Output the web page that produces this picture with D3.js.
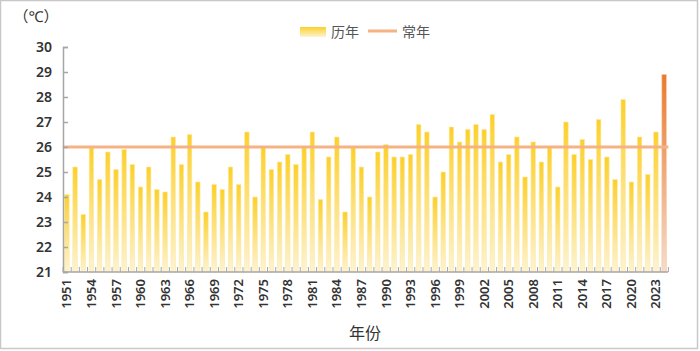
<!DOCTYPE html>
<html><head><meta charset="utf-8">
<script src="https://cdn.jsdelivr.net/npm/d3@7"></script>
<style>
body{margin:0;background:#fff;}
svg{display:block;font-family:"Noto Sans","Noto Sans CJK SC",sans-serif;}
</style></head>
<body><div id="chart"></div>
<script>
const years = d3.range(1951, 2025);
const temps = [24.1,25.2,23.3,26.0,24.7,25.8,25.1,25.9,25.3,24.4,
  25.2,24.3,24.2,26.4,25.3,26.5,24.6,23.4,24.5,24.3,
  25.2,24.5,26.6,24.0,26.0,25.1,25.4,25.7,25.3,26.0,
  26.6,23.9,25.6,26.4,23.4,26.0,25.2,24.0,25.8,26.1,
  25.6,25.6,25.7,26.9,26.6,24.0,25.0,26.8,26.2,26.7,
  26.9,26.7,27.3,25.4,25.7,26.4,24.8,26.2,25.4,26.0,
  24.4,27.0,25.7,26.3,25.5,27.1,25.6,24.7,27.9,24.6,
  26.4,24.9,26.6,28.9];
const normal = 26.0;
const yTicks = d3.range(21, 31);
const labelYears = years.filter((y,i) => i % 3 === 0);

const W=700, H=351;
const m={left:63, right:32, top:47, bottom:79};
const svg=d3.select('#chart').append('svg').attr('width',W).attr('height',H);

const defs=svg.append('defs');
const gy=defs.append('linearGradient').attr('id','gy').attr('x1',0).attr('y1',0).attr('x2',0).attr('y2',1);
gy.append('stop').attr('offset','0%').attr('stop-color','#fcd02a');
gy.append('stop').attr('offset','100%').attr('stop-color','#fdf3d2');
const go=defs.append('linearGradient').attr('id','go').attr('x1',0).attr('y1',0).attr('x2',0).attr('y2',1);
go.append('stop').attr('offset','0%').attr('stop-color','#ea7a2c');
go.append('stop').attr('offset','100%').attr('stop-color','#f5dccb');

// frame
svg.append('rect').attr('x',0.5).attr('y',0.5).attr('width',W-3).attr('height',H-3)
  .attr('fill','none').attr('stroke','#c8c8c8').attr('stroke-width',1.5);

const x=d3.scaleBand().domain(years).range([m.left, W-m.right]).paddingInner(0.45).paddingOuter(0.2);
const y=d3.scaleLinear().domain([21,30]).range([H-m.bottom, m.top]);

// bars
svg.append('g').selectAll('rect').data(years).join('rect')
  .attr('x',d=>x(d)).attr('width',x.bandwidth())
  .attr('y',(d,i)=>y(temps[i])).attr('height',(d,i)=>y(21)-y(temps[i]))
  .attr('fill',(d,i)=>i===years.length-1?'url(#go)':'url(#gy)')
  .attr('stroke',(d,i)=>i===years.length-1?'#f6c9a6':'#fde9a6').attr('stroke-width',0.6);

// normal line
svg.append('line').attr('x1',x(years[0])-2).attr('x2',x(years[years.length-1])+x.bandwidth()+2)
  .attr('y1',y(normal)).attr('y2',y(normal)).attr('stroke','#f5b283').attr('stroke-width',3);

// y axis
const ya=svg.append('g').attr('transform',`translate(${m.left},0)`)
  .call(d3.axisRight(y).tickValues(yTicks).tickSize(5).tickFormat(''));
ya.selectAll('line,path').attr('stroke','#a6a6a6').attr('stroke-width',1.5);
svg.append('g').selectAll('text').data(yTicks).join('text')
  .attr('x',52).attr('y',d=>y(d)).attr('dy','0.35em').attr('text-anchor','end')
  .style('font-size','14px').style('font-weight',600).attr('fill','#333').text(d=>d);

// x axis
const xa=svg.append('g').attr('transform',`translate(0,${y(21)})`);
xa.append('line').attr('x1',m.left).attr('x2',W-m.right).attr('stroke','#a6a6a6').attr('stroke-width',1.5);
xa.selectAll('.tk').data(years.concat([null])).join('line')
  .attr('x1',(d,i)=>m.left+i*x.step()).attr('x2',(d,i)=>m.left+i*x.step())
  .attr('y1',0).attr('y2',-5).attr('stroke','#a6a6a6').attr('stroke-width',1);
svg.append('g').selectAll('text').data(labelYears).join('text')
  .attr('transform',d=>`translate(${x(d)+x.bandwidth()/2},279) rotate(-90)`)
  .attr('dy','0.35em').attr('text-anchor','end')
  .style('font-size','13px').style('font-weight',600).attr('fill','#333').text(d=>d);

svg.append('text').attr('x',365).attr('y',339).attr('text-anchor','middle')
  .style('font-size','16px').attr('fill','#333').text('年份');
svg.append('text').attr('x',36).attr('y',22).attr('text-anchor','middle')
  .style('font-size','15px').attr('fill','#333').text('（℃）');

// legend
const lg=svg.append('g');
lg.append('rect').attr('x',300).attr('y',27).attr('width',26).attr('height',10).attr('fill','url(#gy)');
lg.append('text').attr('x',331).attr('y',32).attr('dy','0.35em').style('font-size','14px').attr('fill','#555').text('历年');
lg.append('line').attr('x1',368).attr('x2',397).attr('y1',31).attr('y2',31).attr('stroke','#f5b283').attr('stroke-width',3);
lg.append('text').attr('x',402).attr('y',32).attr('dy','0.35em').style('font-size','14px').attr('fill','#555').text('常年');
</script></body></html>
